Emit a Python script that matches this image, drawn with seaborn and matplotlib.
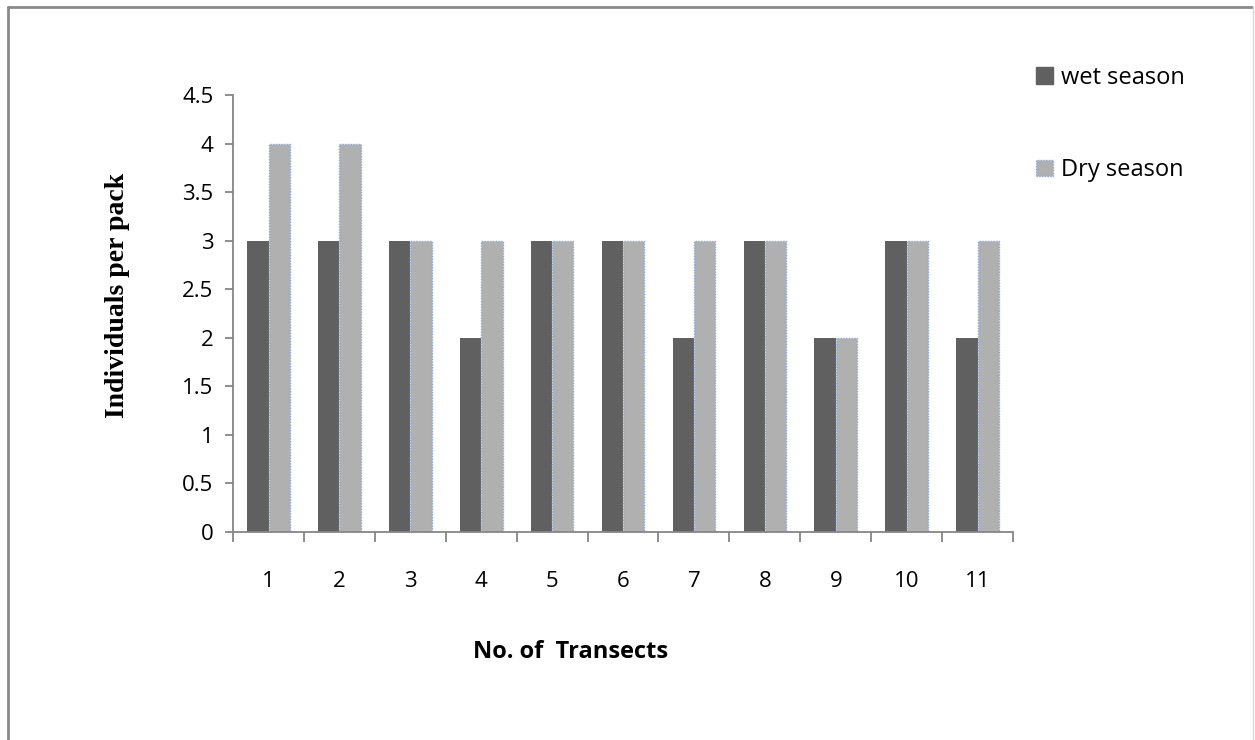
import matplotlib
matplotlib.use("Agg")
import matplotlib.pyplot as plt
from matplotlib.lines import Line2D
from matplotlib.patches import Patch
from matplotlib.ticker import FixedLocator, NullFormatter
import seaborn as sns
import pandas as pd

transects = ["1", "2", "3", "4", "5", "6", "7", "8", "9", "10", "11"]
wet_season = [3, 3, 3, 2, 3, 3, 2, 3, 2, 3, 2]
dry_season = [4, 4, 3, 3, 3, 3, 3, 3, 2, 3, 3]
season_names = ["wet season", "Dry season"]
y_ticks = [0, 0.5, 1, 1.5, 2, 2.5, 3, 3.5, 4, 4.5]

df = pd.DataFrame({
    "Transect": transects * 2,
    "Individuals": wet_season + dry_season,
    "Season": [season_names[0]] * len(transects) + [season_names[1]] * len(transects),
})

sns.set_theme(style="white")
plt.rcParams["font.family"] = ["Open Sans", "DejaVu Sans"]
plt.rcParams["text.color"] = "black"
plt.rcParams["xtick.labelcolor"] = "black"
plt.rcParams["ytick.labelcolor"] = "black"

fig = plt.figure(figsize=(12.55, 7.4), dpi=100)
ax = fig.add_axes([0.1857, 0.2811, 0.8072 - 0.1857, 0.8716 - 0.2811])

wet_color = "#606060"
dry_color = "#b0b0b0"
edge_blue = "#8ea9d8"

sns.barplot(data=df, x="Transect", y="Individuals", hue="Season",
            order=transects, hue_order=season_names,
            palette=[wet_color, dry_color], width=0.6, saturation=1,
            ax=ax, legend=False)

for bar in ax.containers[0]:
    bar.set_edgecolor(wet_color)
    bar.set_linewidth(0)
for bar in ax.containers[1]:
    bar.set_edgecolor(edge_blue)
    bar.set_linewidth(1.0)
    bar.set_linestyle((0, (1, 1)))

ax.set_xlim(-0.5, len(transects) - 0.5)
ax.set_ylim(0, 4.5)
ax.set_yticks(y_ticks)
ax.set_yticklabels([f"{v:g}" for v in y_ticks])

axis_gray = "#868686"
for side in ("top", "right"):
    ax.spines[side].set_visible(False)
for side in ("left", "bottom"):
    ax.spines[side].set_color(axis_gray)
    ax.spines[side].set_linewidth(1.3)

ax.tick_params(axis="y", which="major", direction="out", length=6, width=1.3,
               color=axis_gray, labelsize=16, pad=8, left=True)
ax.tick_params(axis="x", which="major", length=0, labelsize=16, pad=28)
ax.xaxis.set_minor_locator(FixedLocator([i - 0.5 for i in range(len(transects) + 1)]))
ax.xaxis.set_minor_formatter(NullFormatter())
ax.tick_params(axis="x", which="minor", direction="out", length=7, width=1.3,
               color=axis_gray, bottom=True)

ax.set_xlabel("")
ax.set_ylabel("")
fig.text(571 / 1255, 1 - 652 / 740, "No. of  Transects", ha="center", va="center",
         fontsize=17, fontweight="bold", family=["Open Sans", "DejaVu Sans"])
fig.text(117 / 1255, 1 - 295 / 740, "Individuals per pack", ha="center", va="center",
         rotation=90, fontsize=20, fontweight="bold",
         family=["Liberation Serif", "DejaVu Serif"])

handles = [Patch(facecolor=wet_color, edgecolor=wet_color),
           Patch(facecolor=dry_color, edgecolor=edge_blue, linestyle=(0, (1, 1)))]
fig.legend(handles, season_names, loc="upper left",
           bbox_to_anchor=(1036 / 1255, 1 - 66 / 740), frameon=False,
           fontsize=17, labelspacing=2.9, handlelength=0.7, handleheight=0.7,
           handletextpad=0.35, borderpad=0, borderaxespad=0)

# outer frame: top, left, right edges
frame_gray = "#8a8a8a"
fig.add_artist(Line2D([8 / 1255, 1252 / 1255], [1 - 7 / 740, 1 - 7 / 740],
                      color=frame_gray, lw=2, transform=fig.transFigure))
fig.add_artist(Line2D([8 / 1255, 8 / 1255], [0, 1 - 7 / 740],
                      color=frame_gray, lw=2, transform=fig.transFigure))
fig.add_artist(Line2D([1253 / 1255, 1253 / 1255], [0, 1 - 7 / 740],
                      color="#d9d9d9", lw=1, transform=fig.transFigure))

fig.savefig("out.png", dpi=100, facecolor="white")
